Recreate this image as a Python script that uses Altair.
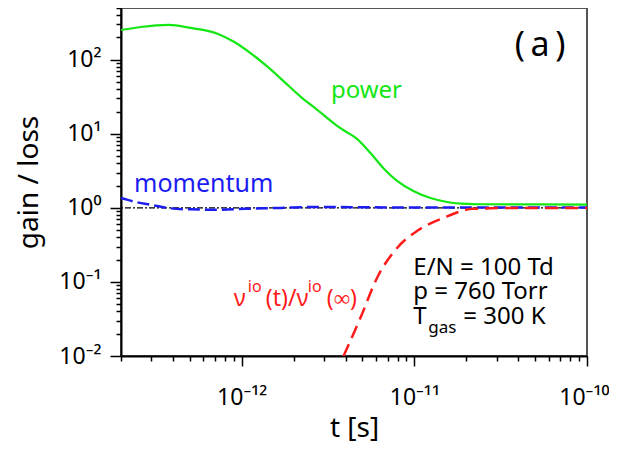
import altair as alt
import pandas as pd

# ---- data ----
t_power = [2.0e-13, 2.61e-13, 3.78e-13, 5.07e-13, 7.24e-13, 9.02e-13, 1.13e-12, 1.41e-12, 1.76e-12,
           2.19e-12, 2.74e-12, 3.73e-12, 4.69e-12, 5.57e-12, 6.62e-12, 7.98e-12, 9.87e-12,
           1.24e-11, 1.55e-11, 2.02e-11, 2.4e-11, 1.0e-10]
power = [252, 277, 295, 269, 225, 175, 122, 80.6, 50.7, 31.8, 21.1, 11.9, 8.4, 5.5, 3.44, 2.30, 1.69,
         1.36, 1.20, 1.13, 1.12, 1.11]

t_mom = [2.0e-13, 2.44e-13, 2.98e-13, 3.89e-13, 5.07e-13, 7.08e-13, 1.05e-12, 1.68e-12,
         2.86e-12, 4.88e-12, 1.08e-11, 1.0e-10]
mom = [1.36, 1.20, 1.10, 0.985, 0.955, 0.945, 0.97, 1.0, 1.03, 1.02, 1.01, 1.01]

t_nu = [3.89e-12, 4.88e-12, 6.1e-12, 7.97e-12, 1.04e-11, 1.47e-11, 2.19e-11, 4.1e-11, 1.0e-10]
nu = [0.01, 0.033, 0.115, 0.29, 0.49, 0.73, 0.97, 1.0, 1.0]

x_major = [1e-12, 1e-11, 1e-10]
x_major_labels = ["10⁻¹²", "10⁻¹¹", "10⁻¹⁰"]
y_major = [0.01, 0.1, 1.0, 10.0, 100.0]
y_major_labels = ["10⁻²", "10⁻¹", "10⁰", "10¹", "10²"]

x_minor = [m * 10.0 ** k for k in (-13, -12, -11) for m in range(2, 10)]
y_minor = [m * 10.0 ** k for k in (-2, -1, 0, 1, 2) for m in range(2, 10) if m * 10.0 ** k <= 500]

X_DOMAIN = [2e-13, 1e-10]
Y_DOMAIN = [0.01, 500]


def label_expr(vals, labels):
    expr = "''"
    for v, lab in reversed(list(zip(vals, labels))):
        expr = f"abs(datum.value/{v!r} - 1) < 1e-6 ? '{lab}' : ({expr})"
    return expr


x_scale = alt.Scale(type="log", domain=X_DOMAIN, nice=False)
y_scale = alt.Scale(type="log", domain=Y_DOMAIN, nice=False)

x_major_axis = alt.Axis(orient="bottom", values=x_major, labelExpr=label_expr(x_major, x_major_labels),
                        tickSize=10, title="t [s]", labelPadding=20, titlePadding=5,
                        labelFlush=True, labelFlushOffset=22)
y_major_axis = alt.Axis(orient="left", values=y_major, labelExpr=label_expr(y_major, y_major_labels),
                        tickSize=11, title="gain / loss", labelPadding=9, titlePadding=15)
x_minor_axis = alt.Axis(orient="bottom", values=x_minor, labels=False, tickSize=5, domain=False, title=None)
y_minor_axis = alt.Axis(orient="left", values=y_minor, labels=False, tickSize=5, domain=False, title=None)

x_enc = alt.X("t:Q", scale=x_scale, axis=None)
y_enc = alt.Y("v:Q", scale=y_scale, axis=None)

df_power = pd.DataFrame({"t": t_power, "v": power})
df_mom = pd.DataFrame({"t": t_mom, "v": mom})
df_nu = pd.DataFrame({"t": t_nu, "v": nu})
df_one = pd.DataFrame({"v": [1.0]})

GREEN, BLUE, RED = "#14e614", "#1c1cf0", "#ff1a1a"

# axis carriers (invisible copies of the power curve)
axes_major = alt.Chart(df_power).mark_line(opacity=0).encode(
    x=alt.X("t:Q", scale=x_scale, axis=x_major_axis), y=alt.Y("v:Q", scale=y_scale, axis=y_major_axis))
axes_minor = alt.Chart(df_power).mark_line(opacity=0).encode(
    x=alt.X("t:Q", scale=x_scale, axis=x_minor_axis), y=alt.Y("v:Q", scale=y_scale, axis=y_minor_axis))

ref = alt.Chart(df_one).mark_rule(color="black", strokeWidth=1.3, strokeDash=[6, 2, 2, 2]).encode(y=y_enc)
l_power = alt.Chart(df_power).mark_line(color=GREEN, strokeWidth=2.2, interpolate="monotone", clip=True).encode(x=x_enc, y=y_enc)
l_mom = alt.Chart(df_mom).mark_line(color=BLUE, strokeWidth=2.5, strokeDash=[12, 5], interpolate="monotone", clip=True).encode(x=x_enc, y=y_enc)
l_nu = alt.Chart(df_nu).mark_line(color=RED, strokeWidth=2.5, strokeDash=[13, 7], interpolate="monotone", clip=True).encode(x=x_enc, y=y_enc)


def text_layer(txt, t, v, color, size, align="left", baseline="alphabetic", dx=0, dy=0):
    d = pd.DataFrame({"t": [t], "v": [v], "txt": [txt]})
    return alt.Chart(d).mark_text(color=color, fontSize=size, font="Noto Sans", align=align,
                                  baseline=baseline, dx=dx, dy=dy).encode(x=x_enc, y=y_enc, text="txt:N")


NU_T, NU_V = 9.0e-13, 0.048
texts = [
    text_layer("(\u2009a\u2009)", 5.35e-11, 154, "black", 34, align="center", baseline="middle"),
    text_layer("power", 5.28e-12, 30, GREEN, 24, align="center"),
    text_layer("momentum", 2.38e-13, 1.66, BLUE, 25),
    text_layer("ν", NU_T, NU_V, RED, 23),
    text_layer("io", NU_T, NU_V, RED, 16, dx=14, dy=-14),
    text_layer("(t)/ν", NU_T, NU_V, RED, 23, dx=32),
    text_layer("io", NU_T, NU_V, RED, 16, dx=74, dy=-14),
    text_layer("(∞)", NU_T, NU_V, RED, 23, dx=93),
    text_layer("E/N = 100 Td", 9.86e-12, 0.126, "black", 24),
    text_layer("p = 760 Torr", 9.86e-12, 0.058, "black", 24),
    text_layer("T", 9.86e-12, 0.027, "black", 24),
    text_layer("gas", 9.86e-12, 0.027, "black", 17, dx=15, dy=9),
    text_layer("= 300 K", 9.86e-12, 0.027, "black", 24, dx=50),
]

chart = alt.layer(axes_minor, axes_major, ref, l_power, l_mom, l_nu, *texts).resolve_axis(
    x="independent", y="independent"
).properties(
    width=466, height=348,
    autosize=alt.AutoSizeParams(type="none"),
    padding={"left": 113, "top": 0, "right": 22, "bottom": 88},
).configure_view(stroke="#555555", strokeWidth=2).configure_axis(
    domainColor="black", domainWidth=2, tickColor="black", tickWidth=1.5,
    labelFont="Noto Sans", labelFontSize=23, labelColor="black",
    titleFont="Noto Sans", titleFontSize=28, titleFontWeight="normal", titleColor="black",
    grid=False, labelOverlap=False,
)

chart.save("out.html", embed_options={"renderer": "svg", "actions": False})
